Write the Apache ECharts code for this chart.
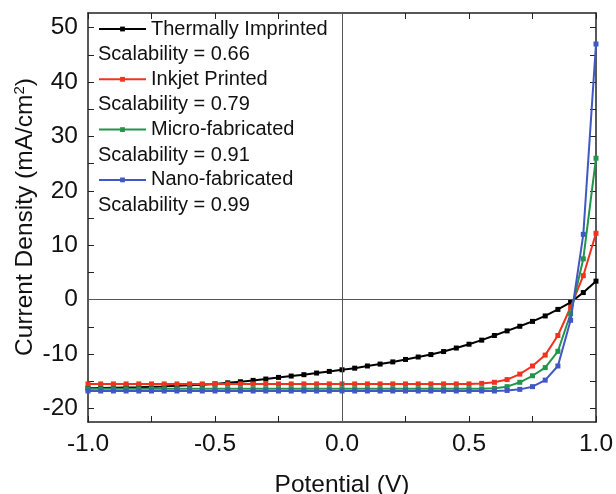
<!DOCTYPE html>
<html>
<head>
<meta charset="utf-8">
<script src="https://cdn.jsdelivr.net/npm/echarts@6/dist/echarts.min.js"></script>
<style>
  html, body { margin: 0; padding: 0; background: #fff; }
  #chart { width: 616px; height: 494px; }
</style>
</head>
<body>
<div id="chart"></div>
<script>
// J-V curves, potential sweep every 0.05 V
var potential = [-1.00,-0.95,-0.90,-0.85,-0.80,-0.75,-0.70,-0.65,-0.60,-0.55,-0.50,
  -0.45,-0.40,-0.35,-0.30,-0.25,-0.20,-0.15,-0.10,-0.05,0.00,
  0.05,0.10,0.15,0.20,0.25,0.30,0.35,0.40,0.45,0.50,
  0.55,0.60,0.65,0.70,0.75,0.80,0.85,0.90,0.95,1.00];

var thermal = [-16.3,-16.25,-16.2,-16.15,-16.1,-16.0,-15.95,-15.85,-15.75,-15.65,-15.5,
  -15.3,-15.1,-14.85,-14.6,-14.3,-14.05,-13.8,-13.5,-13.2,-12.9,
  -12.6,-12.2,-11.85,-11.45,-11.0,-10.55,-10.1,-9.55,-8.9,-8.2,
  -7.45,-6.6,-5.75,-4.9,-4.0,-3.0,-1.8,-0.5,1.3,3.4];

var inkjet = [-15.5,-15.5,-15.5,-15.5,-15.5,-15.5,-15.5,-15.5,-15.5,-15.5,-15.5,
  -15.5,-15.5,-15.5,-15.5,-15.5,-15.5,-15.5,-15.5,-15.5,-15.5,
  -15.5,-15.5,-15.5,-15.5,-15.5,-15.5,-15.5,-15.5,-15.5,-15.5,
  -15.4,-15.2,-14.7,-13.7,-12.2,-10.2,-6.6,-1.4,4.4,12.2];

var micro = [-16.4,-16.4,-16.4,-16.4,-16.4,-16.4,-16.4,-16.4,-16.4,-16.4,-16.4,
  -16.4,-16.4,-16.4,-16.4,-16.4,-16.4,-16.4,-16.4,-16.4,-16.4,
  -16.4,-16.4,-16.4,-16.4,-16.4,-16.4,-16.4,-16.4,-16.4,-16.4,
  -16.4,-16.3,-16.0,-15.2,-14.0,-12.5,-9.5,-2.6,7.5,26.0];

var nano = [-16.8,-16.8,-16.8,-16.8,-16.8,-16.8,-16.8,-16.8,-16.8,-16.8,-16.8,
  -16.8,-16.8,-16.8,-16.8,-16.8,-16.8,-16.8,-16.8,-16.8,-16.8,
  -16.8,-16.8,-16.8,-16.8,-16.8,-16.8,-16.8,-16.8,-16.8,-16.8,
  -16.8,-16.8,-16.7,-16.5,-16.0,-14.8,-12.2,-3.8,12.0,47.0];

var names = ['Thermally Imprinted', 'Inkjet Printed', 'Micro-fabricated', 'Nano-fabricated'];
var scalability = ['0.66', '0.79', '0.91', '0.99'];
var colors = ['#000000', '#f0321e', '#23944a', '#4058c4'];
var yLabels = [-20, -10, 0, 10, 20, 30, 40, 50];
var yTicks = [-20, -15, -10, -5, 0, 5, 10, 15, 20, 25, 30, 35, 40, 45, 50];

var font = '"Liberation Sans", Arial, sans-serif';

function pairs(ys) {
  return potential.map(function (x, i) { return [x, ys[i]]; });
}

var allData = [thermal, inkjet, micro, nano];

var series = allData.map(function (ys, i) {
  var s = {
    name: names[i],
    type: 'line',
    data: pairs(ys),
    symbol: 'rect',
    symbolSize: 5,
    showAllSymbol: true,
    lineStyle: { width: 2, color: colors[i] },
    itemStyle: { color: colors[i] },
    z: 3 + i
  };
  if (i === 0) {
    s.markLine = {
      silent: true,
      symbol: 'none',
      animation: false,
      label: { show: false },
      lineStyle: { color: '#555', width: 1, type: 'solid' },
      data: [{ yAxis: 0 }, { xAxis: 0 }]
    };
  }
  return s;
});

var graphics = scalability.map(function (v, i) {
  return {
    type: 'text',
    x: 98,
    y: 54.5 + i * 50.3,
    style: { text: 'Scalability = ' + v, font: '20px ' + font, fill: '#111', verticalAlign: 'middle' }
  };
});
graphics.push({
  type: 'text',
  x: 25,
  y: 217,
  rotation: Math.PI / 2,
  style: {
    text: 'Current Density (mA/cm{sup|2})',
    font: '24.5px ' + font,
    fill: '#111',
    align: 'center',
    verticalAlign: 'middle',
    rich: { sup: { fontSize: 15, fontFamily: font, verticalAlign: 'top', padding: [0, 0, 11, 0] } }
  }
});

var myChart = echarts.init(document.getElementById('chart'));

option = {
  animation: false,
  backgroundColor: '#fff',
  grid: { left: 88, right: 20, top: 13, bottom: 72, outerBoundsMode: 'none' },
  legend: {
    data: names,
    orient: 'vertical',
    left: 98,
    top: 18,
    padding: 0,
    itemWidth: 47,
    itemHeight: 6,
    itemGap: 28.3,
    textStyle: { fontSize: 20, fontFamily: font, color: '#111', lineHeight: 22 }
  },
  xAxis: [{
    type: 'value',
    min: -1, max: 1, interval: 0.25,
    name: 'Potential (V)',
    nameLocation: 'middle',
    nameGap: 51,
    nameTextStyle: { fontSize: 24.5, fontFamily: font, color: '#111' },
    axisLine: { onZero: false, lineStyle: { color: '#222', width: 1.5 } },
    axisTick: { inside: true, length: 6, lineStyle: { color: '#222' } },
    axisLabel: {
      fontSize: 24.5, fontFamily: font, color: '#111', margin: 10,
      formatter: function (v) {
        return Math.abs(v * 2 - Math.round(v * 2)) < 1e-6 ? v.toFixed(1) : '';
      }
    },
    splitLine: { show: false }
  }, {
    type: 'value',
    position: 'top',
    min: -1, max: 1, interval: 0.25,
    axisLine: { onZero: false, lineStyle: { color: '#222', width: 1.5 } },
    axisTick: { inside: true, length: 6, lineStyle: { color: '#222' } },
    axisLabel: { show: false },
    splitLine: { show: false }
  }],
  yAxis: [{
    type: 'value',
    min: -22.5, max: 52.7,
    axisLine: { show: true, onZero: false, lineStyle: { color: '#222', width: 1.5 } },
    axisTick: { show: true, inside: true, length: 6, customValues: yTicks, lineStyle: { color: '#222' } },
    axisLabel: { fontSize: 24.5, fontFamily: font, color: '#111', margin: 10, customValues: yLabels },
    splitLine: { show: false }
  }, {
    type: 'value',
    position: 'right',
    min: -22.5, max: 52.7,
    axisLine: { show: true, onZero: false, lineStyle: { color: '#222', width: 1.5 } },
    axisTick: { show: true, inside: true, length: 6, customValues: yTicks, lineStyle: { color: '#222' } },
    axisLabel: { show: false },
    splitLine: { show: false }
  }],
  graphic: graphics,
  series: series
};

myChart.setOption(option);
</script>
</body>
</html>
